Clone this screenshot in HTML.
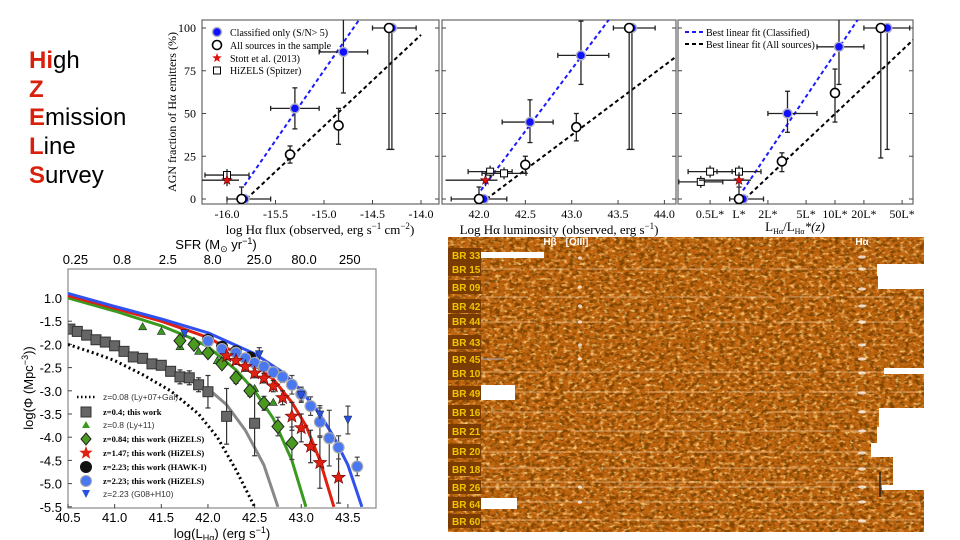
<!DOCTYPE html>
<html><head><meta charset="utf-8"><style>
body{margin:0;background:#fff}
svg{display:block}
.serif{font-family:"Liberation Serif",serif}
.sans{font-family:"Liberation Sans",sans-serif}
</style></head><body>
<svg id="root" width="960" height="540" viewBox="0 0 960 540" xmlns="http://www.w3.org/2000/svg">
<defs>
<filter id="dark" x="0" y="0" width="1" height="1">
<feTurbulence type="fractalNoise" baseFrequency="0.2 0.3" numOctaves="2" seed="4" result="t"/>
<feColorMatrix in="t" type="matrix" values="0 0 0 0 0.22  0 0 0 0 0.06  0 0 0 0 0  -4.5 0 0 0 2.5"/>
</filter>
<filter id="light" x="0" y="0" width="1" height="1">
<feTurbulence type="fractalNoise" baseFrequency="0.22 0.32" numOctaves="2" seed="9" result="t"/>
<feColorMatrix in="t" type="matrix" values="0 0 0 0 1  0 0 0 0 0.62  0 0 0 0 0.2  0 3 0 0 -1.55"/>
</filter>
<clipPath id="c1"><rect x="202" y="20" width="237" height="184"/></clipPath>
<clipPath id="c2"><rect x="442" y="20" width="234" height="184"/></clipPath>
<clipPath id="c3"><rect x="678" y="20" width="235" height="184"/></clipPath>
<clipPath id="c4"><rect x="68" y="269" width="308" height="239"/></clipPath>
</defs>

<g class="sans" font-size="24">
<text x="29" y="68" fill="#000"><tspan fill="#d8200c" font-weight="bold">Hi</tspan>gh</text>
<text x="29" y="97" fill="#d8200c" font-weight="bold">Z</text>
<text x="29" y="125"><tspan fill="#d8200c" font-weight="bold">E</tspan>mission</text>
<text x="29" y="154"><tspan fill="#d8200c" font-weight="bold">L</tspan>ine</text>
<text x="29" y="183"><tspan fill="#d8200c" font-weight="bold">S</tspan>urvey</text>
</g>

<g id="topg"></g>
<g id="lf"></g>

<g id="spec">
<rect x="448" y="237" width="476" height="295" fill="#c0640e"/>
<rect x="448" y="237" width="476" height="295" fill="#000" filter="url(#dark)"/>
<rect x="448" y="237" width="476" height="295" fill="#fff" filter="url(#light)"/>
</g>
</svg>
<script>
// ---------- top panels data ----------
const p1ClsX=[-15.82,-15.3,-14.8,-14.3], p1ClsY=[0,53,86,100];
const p1ClsXerr=[[-16,-15.55],[-15.55,-15.05],[-15.05,-14.55],[-14.5,-14.05]];
const p1ClsYerr=[[0,0],[41,65],[62,110],[29,100]];
const p1AllX=[-15.85,-15.35,-14.85,-14.33], p1AllY=[0,26,43,100];
const p1AllYerr=[[0,7],[21,31],[32,53],[29,100]];
const p1StarX=[-16.0], p1StarY=[11];
const p1SqX=[-16.0], p1SqY=[14];
const p1FitB=[[-15.82,8],[-14.55,112]], p1FitK=[[-15.8,0],[-14.0,96]];

const p2ClsX=[42.05,42.55,43.1,43.65], p2ClsY=[0,45,84,100];
const p2ClsXerr=[[41.7,42.3],[42.25,42.8],[42.85,43.4],[43.45,43.9]];
const p2ClsYerr=[[0,0],[33,58],[67,104],[29,100]];
const p2AllX=[42.0,42.5,43.05,43.62], p2AllY=[0,20,42,100];
const p2AllYerr=[[0,7],[15,25],[34,50],[29,100]];
const p2StarX=[42.07], p2StarY=[11];
const p2SqX=[42.12,42.27], p2SqY=[16,15];
const p2FitB=[[42.02,5],[43.5,112]], p2FitK=[[42.08,0],[44.12,83]];

const p3ClsX=[1.1,3.2,11,35], p3ClsY=[0,50,89,100];
const p3ClsXerr=[[0.8,1.8],[2,6.5],[6.5,20],[20,60]];
const p3ClsYerr=[[0,0],[39,63],[67,110],[29,100]];
const p3AllX=[1.0,2.8,10,30], p3AllY=[0,22,62,100];
const p3AllYerr=[[0,7],[16,27],[45,76],[24,100]];
const p3StarX=[1.0], p3StarY=[11];
const p3SqX=[0.5,1.0,0.4], p3SqY=[16,16,10];
const p3FitB=[[1.1,5],[21,112]], p3FitK=[[1.15,0],[65,93]];

const yTicks=[0,25,50,75,100];
const p1TickVals=[-16.0,-15.5,-15.0,-14.5,-14.0], p1TickLbl=["-16.0","-15.5","-15.0","-14.5","-14.0"];
const p2TickVals=[42.0,42.5,43.0,43.5,44.0], p2TickLbl=["42.0","42.5","43.0","43.5","44.0"];
const p3TickVals=[0.5,1,2,5,10,20,50], p3TickLbl=["0.5L*","L*","2L*","5L*","10L*","20L*","50L*"];

// ---------- LF data ----------
const lfXTicks=[40.5,41.0,41.5,42.0,42.5,43.0,43.5];
const lfYTicks=[-1.0,-1.5,-2.0,-2.5,-3.0,-3.5,-4.0,-4.5,-5.0,-5.5];
const lfYLbl=["1.0","-1.5","-2.0","-2.5","-3.0","-3.5","-4.0","-4.5","-5.0","-5.5"];
const sfrLbl=["0.25","0.8","2.5","8.0","25.0","80.0","250"];
const sfrPos=[40.58,41.08,41.57,42.05,42.55,43.03,43.52];
const curveBlueX=[40.5,41.0,41.5,42.0,42.5,42.8,43.0,43.2,43.35,43.5,43.65], curveBlueY=[-0.9,-1.18,-1.45,-1.75,-2.2,-2.6,-3.0,-3.5,-4.0,-4.6,-5.5];
const curveRedX=[40.5,41.0,41.5,42.0,42.4,42.7,42.9,43.05,43.2,43.35], curveRedY=[-0.95,-1.22,-1.5,-1.85,-2.3,-2.75,-3.25,-3.75,-4.5,-5.5];
const curveGreenX=[40.5,41.0,41.5,41.8,42.0,42.3,42.5,42.7,42.9,43.05], curveGreenY=[-1.0,-1.28,-1.6,-1.85,-2.05,-2.55,-3.0,-3.6,-4.5,-5.5];
const curveGrayX=[42.0,42.2,42.4,42.6,42.75], curveGrayY=[-2.95,-3.3,-3.85,-4.6,-5.5];
const curveDotX=[40.5,40.8,41.0,41.3,41.6,41.9,42.1,42.3,42.5], curveDotY=[-2.0,-2.2,-2.35,-2.65,-3.0,-3.5,-4.0,-4.7,-5.5];
const sqX=[40.52,40.6,40.7,40.8,40.9,41.0,41.1,41.2,41.3,41.4,41.5,41.6,41.7,41.8,41.9,42.0,42.2,42.5];
const sqY=[-1.67,-1.72,-1.8,-1.9,-1.95,-2.03,-2.15,-2.27,-2.3,-2.42,-2.45,-2.58,-2.7,-2.72,-2.87,-3.02,-3.55,-3.7];
const sqErr=[0.03,0.03,0.03,0.03,0.03,0.03,0.04,0.04,0.05,0.05,0.06,0.1,0.15,0.15,0.15,0.35,0.6,0.7];
const triX=[41.3,41.5,41.7,41.9,42.1,42.5,42.7], triY=[-1.62,-1.72,-2.05,-2.15,-2.35,-2.95,-3.25];
const diaX=[41.7,41.85,42.0,42.15,42.3,42.45,42.6,42.75,42.9], diaY=[-1.92,-2.0,-2.18,-2.42,-2.72,-3.0,-3.27,-3.77,-4.13];
const diaErr=[0.1,0.08,0.08,0.1,0.12,0.12,0.15,0.2,0.35];
const starX=[42.2,42.3,42.4,42.5,42.6,42.7,42.8,42.9,43.0,43.1,43.2,43.4], starY=[-2.25,-2.35,-2.48,-2.62,-2.73,-2.9,-3.15,-3.55,-3.8,-4.2,-4.55,-4.87];
const starErr=[0.08,0.08,0.1,0.1,0.1,0.12,0.15,0.3,0.3,0.35,0.55,0.55];
const hawkX=[42.0,42.15,42.3,42.45], hawkY=[-1.9,-2.05,-2.15,-2.28];
const bcX=[42.0,42.15,42.3,42.4,42.5,42.6,42.7,42.8,42.9,43.0,43.1,43.2,43.3,43.4,43.6];
const bcY=[-1.93,-2.1,-2.18,-2.3,-2.4,-2.48,-2.6,-2.7,-2.87,-3.07,-3.33,-3.67,-4.02,-4.22,-4.63];
const bcErr=[0.05,0.05,0.05,0.05,0.06,0.08,0.1,0.12,0.2,0.15,0.2,0.3,0.6,0.25,0.2];
const gtX=[41.75,42.55,43.0,43.2,43.5], gtY=[-1.77,-2.22,-3.1,-3.52,-3.63];
const gtErr=[0.05,0.15,0.15,0.2,0.3];

// ---------- spectra data ----------
const specLabels=["BR 33","BR 15","BR 09","BR 42","BR 44","BR 43","BR 45","BR 10","BR 49","BR 16","BR 21","BR 20","BR 18","BR 26","BR 64","BR 60"];
const specLabelY=[255,269,287,306,321,342,359,373,393,412,431,451,469,487,504,521];
const streakY=[269,297,322,372,392,412,431,452,468,482,487,502,520];
const haDotY=[257,269,289,306,322,345,359,373,393,412,431,453,469,487,502,521];
const o3DotY=[258,287,306,322,345,359,487,502];

const NS="http://www.w3.org/2000/svg";
function mk(tag,attrs,parent,name,inter){const e=document.createElementNS(NS,tag);for(const k in attrs)e.setAttribute(k,attrs[k]);


parent.appendChild(e);return e;}
function txt(parent,x,y,s,attrs,name){const t=mk('text',Object.assign({x:x,y:y},attrs||{}),parent,name,false);t.textContent=s;return t;}
function starPts(cx,cy,r){let p=[];for(let i=0;i<10;i++){const a=-Math.PI/2+i*Math.PI/5;const rr=i%2?r*0.42:r;p.push((cx+rr*Math.cos(a)).toFixed(1)+','+(cy+rr*Math.sin(a)).toFixed(1));}return p.join(' ');}

// ---------- top panels ----------
const topG=document.getElementById('topg');
const ty=v=>199-v*1.71;
const panels=[
 {x0:202,x1:439,sx:v=>227+(v+16)*97,clip:'c1',cls:[p1ClsX,p1ClsY,p1ClsXerr,p1ClsYerr],all:[p1AllX,p1AllY,p1AllYerr],st:[p1StarX,p1StarY],sq:[p1SqX,p1SqY],fb:p1FitB,fk:p1FitK,tv:p1TickVals,tl:p1TickLbl,nm:'flux'},
 {x0:442,x1:676,sx:v=>479+(v-42)*92.7,clip:'c2',cls:[p2ClsX,p2ClsY,p2ClsXerr,p2ClsYerr],all:[p2AllX,p2AllY,p2AllYerr],st:[p2StarX,p2StarY],sq:[p2SqX,p2SqY],fb:p2FitB,fk:p2FitK,tv:p2TickVals,tl:p2TickLbl,nm:'luminosity'},
 {x0:678,x1:913,sx:v=>739+Math.log10(v)*96,clip:'c3',cls:[p3ClsX,p3ClsY,p3ClsXerr,p3ClsYerr],all:[p3AllX,p3AllY,p3AllYerr],st:[p3StarX,p3StarY],sq:[p3SqX,p3SqY],fb:p3FitB,fk:p3FitK,tv:p3TickVals,tl:p3TickLbl,nm:'relative-luminosity'}
];
panels.forEach((P,pi)=>{
 const g=mk('g',{},topG,'panel-'+P.nm,false);
 mk('rect',{x:P.x0,y:20,width:P.x1-P.x0,height:184,fill:'#fff',stroke:'#666','stroke-width':1.2},g,'plot-frame',false);
 yTicks.forEach(v=>{mk('line',{x1:P.x0,x2:P.x0+4,y1:ty(v),y2:ty(v),stroke:'#444'},g,'y-tick',false);mk('line',{x1:P.x1,x2:P.x1-4,y1:ty(v),y2:ty(v),stroke:'#444'},g,'y-tick',false);
  if(pi===0)txt(g,P.x0-6,ty(v)+4,String(v),{'text-anchor':'end','font-size':12,class:'serif'},'y-tick-label');});
 P.tv.forEach((v,i)=>{const x=P.sx(v);mk('line',{x1:x,x2:x,y1:204,y2:200,stroke:'#444'},g,'x-tick',false);
  txt(g,x,218,P.tl[i],{'text-anchor':'middle','font-size':12,class:'serif'},'x-tick-label');});
 const c=mk('g',{'clip-path':'url(#'+P.clip+')'},g,'plot-area',false);
 mk('line',{x1:P.sx(P.fk[0][0]),y1:ty(P.fk[0][1]),x2:P.sx(P.fk[1][0]),y2:ty(P.fk[1][1]),stroke:'#000','stroke-width':2,'stroke-dasharray':'4 3'},c,'fit-all-sources',false);
 mk('line',{x1:P.sx(P.fb[0][0]),y1:ty(P.fb[0][1]),x2:P.sx(P.fb[1][0]),y2:ty(P.fb[1][1]),stroke:'#1a1aff','stroke-width':2,'stroke-dasharray':'4 3'},c,'fit-classified',false);
 const eb=(x1,y1,x2,y2)=>{mk('line',{x1:x1,y1:y1,x2:x2,y2:y2,stroke:'#222','stroke-width':1.3},c,'error-bar',false);};
 const cap=(x,y,h)=>{if(h)mk('line',{x1:x-2.5,x2:x+2.5,y1:y,y2:y,stroke:'#222','stroke-width':1.3},c,'error-cap',false);else mk('line',{x1:x,x2:x,y1:y-2.5,y2:y+2.5,stroke:'#222','stroke-width':1.3},c,'error-cap',false);};
 P.sq[0].forEach((v,i)=>{const x=P.sx(v),y=ty(P.sq[1][i]);eb(x-22,y,x+22,y);eb(x,y-6,x,y+6);cap(x-22,y,0);cap(x+22,y,0);
  mk('rect',{x:x-3.5,y:y-3.5,width:7,height:7,fill:'#fff',stroke:'#000'},c,'hizels-spitzer-point',false);});
 P.all[0].forEach((v,i)=>{const x=P.sx(v),e=P.all[2][i];eb(x,ty(e[0]),x,ty(e[1]));cap(x,ty(e[0]),1);cap(x,ty(e[1]),1);});
 P.cls[0].forEach((v,i)=>{const x=P.sx(v),y=ty(P.cls[1][i]),ex=P.cls[2][i],ey=P.cls[3][i];
  eb(P.sx(ex[0]),y,P.sx(ex[1]),y);cap(P.sx(ex[0]),y,0);cap(P.sx(ex[1]),y,0);
  eb(x,ty(ey[0]),x,ty(ey[1]));cap(x,ty(ey[0]),1);cap(x,ty(ey[1]),1);});
 P.cls[0].forEach((v,i)=>{mk('circle',{cx:P.sx(v),cy:ty(P.cls[1][i]),r:4.5,fill:'#1010ff',stroke:'#b0b0c8','stroke-width':1.5},c,'classified-point',false);});
 P.all[0].forEach((v,i)=>{mk('circle',{cx:P.sx(v),cy:ty(P.all[1][i]),r:4.5,fill:'#fff',stroke:'#000','stroke-width':1.6},c,'all-sources-point',false);});
 P.st[0].forEach((v,i)=>{const x=P.sx(v),y=ty(P.st[1][i]);eb(x-40,y,x+12,y);eb(x,y-8,x,y+6);
  mk('polygon',{points:starPts(x,y,5),fill:'#e01010',stroke:'#600','stroke-width':0.6},c,'stott-2013-point',false);});
});
(function(){
 const t1=txt(topG,320,234,'',{'text-anchor':'middle','font-size':13,class:'serif'},'x-axis-title-flux');
 t1.innerHTML='log Hα flux (observed, erg s<tspan dy="-5" font-size="9">−1</tspan><tspan dy="5"> cm</tspan><tspan dy="-5" font-size="9">−2</tspan><tspan dy="5">)</tspan>';
 const t2=txt(topG,559,234,'',{'text-anchor':'middle','font-size':13,class:'serif'},'x-axis-title-luminosity');
 t2.innerHTML='Log Hα luminosity (observed, erg s<tspan dy="-5" font-size="9">−1</tspan><tspan dy="5">)</tspan>';
 const t3=txt(topG,795,231,'',{'text-anchor':'middle','font-size':13,class:'serif'},'x-axis-title-relative');
 t3.innerHTML='L<tspan font-size="8" dy="3">Hα</tspan><tspan dy="-3">/L</tspan><tspan font-size="8" dy="3">Hα</tspan><tspan dy="-3" font-style="italic">*(z)</tspan>';
 txt(topG,0,0,'AGN fraction of Hα emitters (%)',{'text-anchor':'middle','font-size':12,class:'serif',transform:'translate(176,112) rotate(-90)'},'y-axis-title');
 const L=mk('g',{class:'serif','font-size':10},topG,'legend-panel1',false);
 mk('circle',{cx:217,cy:32,r:4.5,fill:'#1010ff',stroke:'#b0b0c8','stroke-width':1.5},L,'legend-classified-marker',false);
 txt(L,230,36,'Classified only (S/N> 5)',{},'legend-classified');
 mk('circle',{cx:217,cy:45,r:4.5,fill:'#fff',stroke:'#000','stroke-width':1.6},L,'legend-all-marker',false);
 txt(L,230,49,'All sources in the sample',{},'legend-all');
 mk('polygon',{points:starPts(217,58,5),fill:'#e01010'},L,'legend-stott-marker',false);
 txt(L,230,62,'Stott et al. (2013)',{},'legend-stott');
 mk('rect',{x:213.5,y:67,width:7,height:7,fill:'#fff',stroke:'#000'},L,'legend-hizels-marker',false);
 txt(L,230,74,'HiZELS (Spitzer)',{},'legend-hizels');
 const L3=mk('g',{class:'serif','font-size':10},topG,'legend-panel3',false);
 mk('line',{x1:685,x2:703,y1:32,y2:32,stroke:'#1a1aff','stroke-width':2,'stroke-dasharray':'4 3'},L3,'legend-fit-classified-line',false);
 txt(L3,706,36,'Best linear fit (Classified)',{},'legend-fit-classified');
 mk('line',{x1:685,x2:703,y1:44,y2:44,stroke:'#000','stroke-width':2,'stroke-dasharray':'4 3'},L3,'legend-fit-all-line',false);
 txt(L3,706,48,'Best linear fit (All sources)',{},'legend-fit-all');
})();

// ---------- LF chart ----------
const lf=document.getElementById('lf');
const lx=v=>68+(v-40.5)*93.3, ly=v=>298-(v+1)*46.4;
mk('rect',{x:68,y:269,width:308,height:239,fill:'#fff',stroke:'#888','stroke-width':1.2},lf,'lf-frame',false);
lfXTicks.forEach(v=>{const x=lx(v);mk('line',{x1:x,x2:x,y1:508,y2:504,stroke:'#444'},lf,'lf-x-tick',false);
 txt(lf,x,522,v.toFixed(1),{'text-anchor':'middle','font-size':13,class:'sans'},'lf-x-tick-label');});
lfYTicks.forEach((v,i)=>{const y=ly(v);mk('line',{x1:68,x2:72,y1:y,y2:y,stroke:'#444'},lf,'lf-y-tick',false);
 txt(lf,62,y+5,lfYLbl[i],{'text-anchor':'end','font-size':13,class:'sans'},'lf-y-tick-label');});
sfrPos.forEach((v,i)=>{txt(lf,lx(v),264,sfrLbl[i],{'text-anchor':'middle','font-size':13,class:'sans'},'sfr-tick-label');});
(function(){
 const t=txt(lf,216,249,'',{'text-anchor':'middle','font-size':13,class:'sans'},'sfr-axis-title');t.innerHTML='SFR (M<tspan font-size="9" dy="3">⊙</tspan><tspan dy="-3"> yr</tspan><tspan font-size="9" dy="-5">−1</tspan><tspan dy="5">)</tspan>';
 const x=txt(lf,222,538,'',{'text-anchor':'middle','font-size':13,class:'sans'},'lf-x-axis-title');x.innerHTML='log(L<tspan font-size="9" dy="3">Hα</tspan><tspan dy="-3">) (erg s</tspan><tspan font-size="9" dy="-5">−1</tspan><tspan dy="5">)</tspan>';
 const y=txt(lf,0,0,'',{'text-anchor':'middle','font-size':13,class:'sans',transform:'translate(33,388) rotate(-90)'},'lf-y-axis-title');y.innerHTML='log(Φ (Mpc<tspan font-size="9" dy="-5">−3</tspan><tspan dy="5">))</tspan>';
})();
const lc=mk('g',{'clip-path':'url(#c4)'},lf,'lf-plot-area',false);
function curve(X,Y,col,w,dash,name){mk('polyline',{points:X.map((v,i)=>lx(v).toFixed(1)+','+ly(Y[i]).toFixed(1)).join(' '),fill:'none',stroke:col,'stroke-width':w,'stroke-dasharray':dash||'none','stroke-linejoin':'round'},lc,name,false);}
curve(curveDotX,curveDotY,'#000',3,'2 3','fit-z008');
curve(curveGrayX,curveGrayY,'#888',3,null,'fit-z04');
curve(curveGreenX,curveGreenY,'#3a9a20',3,null,'fit-z084');
curve(curveRedX,curveRedY,'#e02010',3,null,'fit-z147');
curve(curveBlueX,curveBlueY,'#3050f0',3,null,'fit-z223');
function errs(X,Y,E,col,name){X.forEach((v,i)=>{const x=lx(v);mk('line',{x1:x,x2:x,y1:ly(Y[i]+E[i]),y2:ly(Y[i]-E[i]),stroke:col,'stroke-width':1.2},lc,name,false);
 mk('line',{x1:x-2.5,x2:x+2.5,y1:ly(Y[i]+E[i]),y2:ly(Y[i]+E[i]),stroke:col,'stroke-width':1.2},lc,name+'-cap',false);
 mk('line',{x1:x-2.5,x2:x+2.5,y1:ly(Y[i]-E[i]),y2:ly(Y[i]-E[i]),stroke:col,'stroke-width':1.2},lc,name+'-cap',false);});}
errs(sqX,sqY,sqErr,'#333','z04-error');
errs(diaX,diaY,diaErr,'#444','z084-error');
errs(starX,starY,starErr,'#333','z147-error');
errs(bcX,bcY,bcErr,'#444','z223-error');
errs(gtX,gtY,gtErr,'#444','g08-error');
sqX.forEach((v,i)=>{mk('rect',{x:lx(v)-5,y:ly(sqY[i])-5,width:10,height:10,fill:'#666',stroke:'#333'},lc,'z04-point',false);});
triX.forEach((v,i)=>{const x=lx(v),y=ly(triY[i]);mk('polygon',{points:`${x},${y-4} ${x-4},${y+3} ${x+4},${y+3}`,fill:'#3a9a20',stroke:'#222','stroke-width':0.6},lc,'z08-point',false);});
diaX.forEach((v,i)=>{const x=lx(v),y=ly(diaY[i]);mk('polygon',{points:`${x},${y-7} ${x+6},${y} ${x},${y+7} ${x-6},${y}`,fill:'#4a9a20',stroke:'#222'},lc,'z084-point',false);});
hawkX.forEach((v,i)=>{mk('circle',{cx:lx(v),cy:ly(hawkY[i]),r:6,fill:'#111'},lc,'hawki-point',false);});
bcX.forEach((v,i)=>{mk('circle',{cx:lx(v),cy:ly(bcY[i]),r:5.5,fill:'#4a78f0',stroke:'#aaa','stroke-width':1.2},lc,'z223-point',false);});
starX.forEach((v,i)=>{mk('polygon',{points:starPts(lx(v),ly(starY[i]),7),fill:'#e02010',stroke:'#600','stroke-width':0.6},lc,'z147-point',false);});
gtX.forEach((v,i)=>{const x=lx(v),y=ly(gtY[i]);mk('polygon',{points:`${x-4},${y-4} ${x+4},${y-4} ${x},${y+4}`,fill:'#2850e0',stroke:'#222','stroke-width':0.5},lc,'g08-point',false);});
(function(){
 const g=mk('g',{'font-size':8.5},lf,'lf-legend',false);
 const ys=[397,412,425,439,453,467,481,494],sx=86,tx=103;
 mk('line',{x1:sx-9,x2:sx+9,y1:ys[0],y2:ys[0],stroke:'#000','stroke-width':2.5,'stroke-dasharray':'1.5 2.5'},g,'legend-z008-line',false);
 mk('rect',{x:sx-5,y:ys[1]-5,width:10,height:10,fill:'#666',stroke:'#333'},g,'legend-z04-marker',false);
 mk('polygon',{points:`${sx},${ys[2]-4} ${sx-4},${ys[2]+3} ${sx+4},${ys[2]+3}`,fill:'#3a9a20'},g,'legend-z08-marker',false);
 mk('polygon',{points:`${sx},${ys[3]-6} ${sx+5},${ys[3]} ${sx},${ys[3]+6} ${sx-5},${ys[3]}`,fill:'#4a9a20',stroke:'#222'},g,'legend-z084-marker',false);
 mk('polygon',{points:starPts(sx,ys[4],7),fill:'#e02010'},g,'legend-z147-marker',false);
 mk('circle',{cx:sx,cy:ys[5],r:6,fill:'#111'},g,'legend-hawki-marker',false);
 mk('circle',{cx:sx,cy:ys[6],r:5.5,fill:'#4a78f0',stroke:'#aaa'},g,'legend-z223-marker',false);
 mk('polygon',{points:`${sx-4},${ys[7]-4} ${sx+4},${ys[7]-4} ${sx},${ys[7]+4}`,fill:'#2850e0'},g,'legend-g08-marker',false);
 const lbl=["z=0.08 (Ly+07+Gal)","z=0.4; this work","z=0.8 (Ly+11)","z=0.84; this work (HiZELS)","z=1.47; this work (HiZELS)","z=2.23; this work (HAWK-I)","z=2.23; this work (HiZELS)","z=2.23 (G08+H10)"];
 const bold=[0,1,0,1,1,1,1,0];
 lbl.forEach((s,i)=>txt(g,tx,ys[i]+3,s,bold[i]?{class:'serif','font-weight':'bold'}:{class:'sans',fill:'#333'},'legend-label'));
})();

// ---------- spectra ----------
const sp=document.getElementById('spec');
streakY.forEach((y,i)=>{mk('line',{x1:481,x2:920,y1:y,y2:y,stroke:'#ffdcb0','stroke-width':1.3,opacity:0.45,'stroke-dasharray':(40+i*7)+' '+(8+i%3*6)},sp,'continuum-streak',false);});
haDotY.forEach(y=>{mk('ellipse',{cx:862,cy:y,rx:4,ry:1.6,fill:'#fff',opacity:0.75},sp,'halpha-emission',false);});
o3DotY.forEach(y=>{mk('ellipse',{cx:580,cy:y,rx:2,ry:1.6,fill:'#fff',opacity:0.75},sp,'oiii-emission',false);});
[[877,264,47,12],[878,276,46,13],[884,368,40,6],[879,408,45,19],[877,427,47,16],[871,443,53,14],[893,457,31,28],[882,485,42,5],[481,385,34,15],[481,498,36,11],[481,252,63,6],[924,237,36,300]].forEach(r=>{
 mk('rect',{x:r[0],y:r[1],width:r[2],height:r[3],fill:'#fff'},sp,'image-mask',false);});
mk('line',{x1:481,x2:504,y1:359,y2:359,stroke:'#aab',"stroke-width":1},sp,'scale-line',false);
mk('line',{x1:880,x2:880,y1:472,y2:497,stroke:'#222',"stroke-width":1.5},sp,'detector-artifact',false);
specLabels.forEach((s,i)=>{const y=specLabelY[i];
 mk('rect',{x:448,y:y-7,width:33,height:14,fill:'#7a3c00'},sp,'spectrum-label-box',false);
 txt(sp,452,y+4,s,{'font-size':10,'font-weight':'bold',fill:'#f2c400',class:'sans'},'spectrum-label');});
txt(sp,550,245,'Hβ',{'font-size':10,'font-weight':'bold',fill:'#fff','text-anchor':'middle',class:'sans'},'hbeta-label');
txt(sp,577,245,'[OIII]',{'font-size':10,'font-weight':'bold',fill:'#fff','text-anchor':'middle',class:'sans'},'oiii-label');
txt(sp,862,245,'Hα',{'font-size':10,'font-weight':'bold',fill:'#fff','text-anchor':'middle',class:'sans'},'halpha-label');
</script>
</body></html>
